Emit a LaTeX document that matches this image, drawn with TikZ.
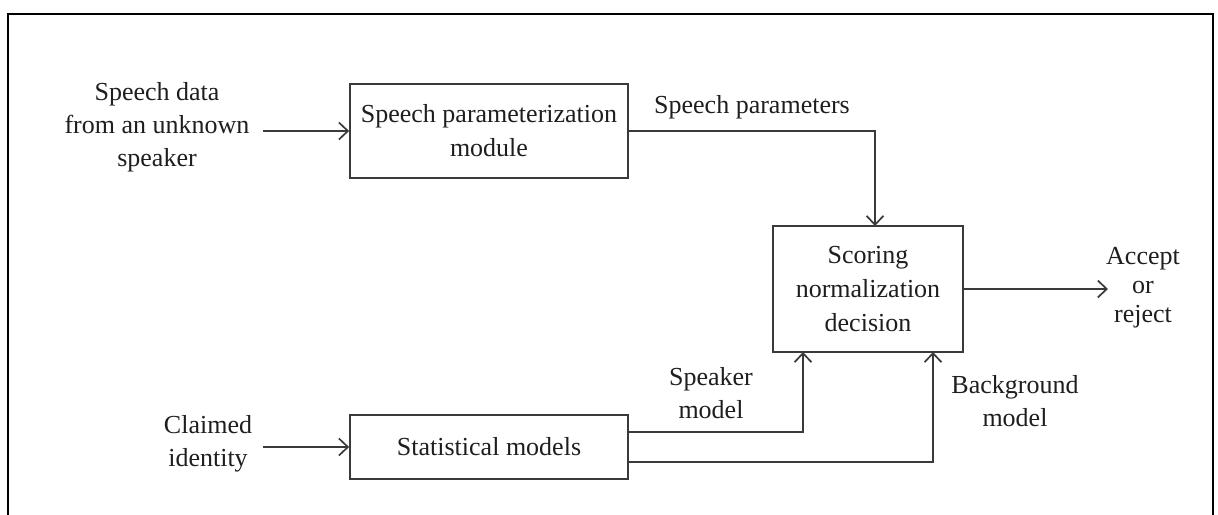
\documentclass[tikz,border=0pt]{standalone}
\usepackage{fontspec}
\setmainfont{Liberation Serif}
\usetikzlibrary{arrows.meta}
\definecolor{linec}{HTML}{3A3A3A}
\definecolor{textc}{HTML}{1E1E1E}
\begin{document}
\begin{tikzpicture}[x=1pt,y=-1pt,
  box/.style={draw=linec,line width=1.7pt,inner sep=0pt,align=center,text=textc,font=\fontsize{26}{34}\selectfont},
  lbl/.style={align=center,inner sep=0pt,text=textc,font=\fontsize{26}{33}\selectfont},
  conn/.style={draw=linec,line width=1.7pt,-{Straight Barb[length=9pt,width=17pt]}},
  wire/.style={draw=linec,line width=1.7pt}]
\useasboundingbox (0,0) rectangle (1218,514);
\draw[line width=2pt,black] (8,530) -- (8,14) -- (1213,14) -- (1213,530);

\node[box,minimum width=278pt,minimum height=94pt] (param) at (489,131) {Speech parameterization\\module};
\node[box,minimum width=190pt,minimum height=126pt] (score) at (868,289) {Scoring\\normalization\\decision};
\node[box,minimum width=278pt,minimum height=64pt] (stat) at (489,447) {Statistical models};

\node[lbl] (speech) at (157,127) {Speech data\\from an unknown\\speaker};
\node[lbl] (claimed) at (208,444) {Claimed\\identity};
\node[lbl] (params) at (752,107) {Speech parameters};
\node[lbl] (spkmodel) at (711,393) {Speaker\\model};
\node[lbl] (bgmodel) at (1015,401) {Background\\model};
\node[lbl,font=\fontsize{26}{29}\selectfont] (accept) at (1143,288) {Accept\\or\\reject};

\coordinate (in1) at (263,131);
\coordinate (in2) at (263,447);
\coordinate (out) at (1108,289);

\draw[conn] (in1) -- (param.west);
\draw[conn] (in2) -- (stat.west);
\draw[conn] (param.east) -- (875,131) -- (875,226);
\draw[conn] (stat.east |- 0,432) -- (803,432) -- (803,352);
\draw[conn] (stat.east |- 0,462) -- (933,462) -- (933,352);
\draw[conn] (score.east) -- (out);
\end{tikzpicture}
\end{document}
